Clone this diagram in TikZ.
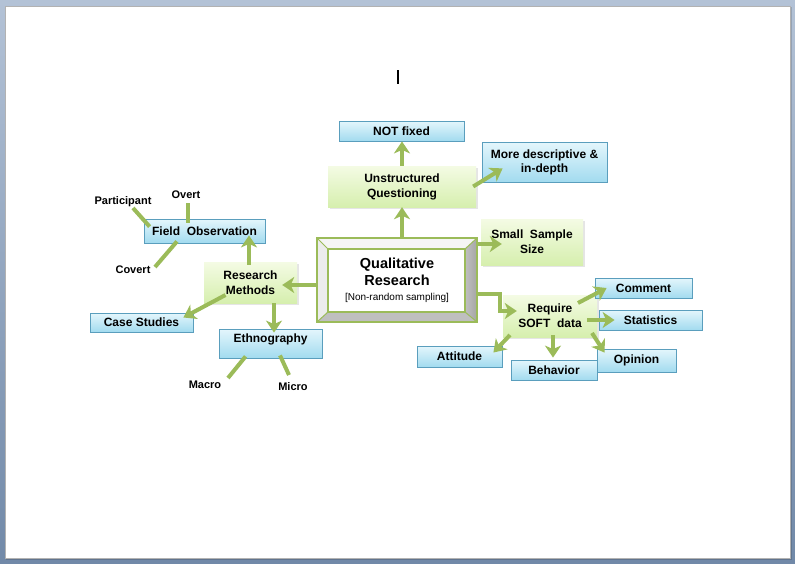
\documentclass[tikz,border=0pt]{standalone}
\usepackage{fontspec}
\setmainfont{Liberation Sans}
\usetikzlibrary{arrows.meta,shadows,calc}
\definecolor{gline}{HTML}{9BBB59}
\definecolor{bborder}{HTML}{5A9EBD}
\definecolor{btop}{HTML}{E4F6FC}
\definecolor{bbot}{HTML}{A2DBEF}
\definecolor{gtop}{HTML}{F4FBE4}
\definecolor{gbot}{HTML}{D6EFAE}
\definecolor{frametop}{HTML}{B3C2D6}
\definecolor{framebot}{HTML}{7189A8}
\tikzset{
  bluebox/.style={rectangle, draw=bborder, line width=0.8pt, top color=btop, bottom color=bbot,
    font=\fontsize{12}{14}\selectfont\bfseries, align=center, inner sep=0pt,
    drop shadow={opacity=0.25, shadow xshift=1.2pt, shadow yshift=-1.2pt}},
  greenbox/.style={rectangle, top color=gtop, bottom color=gbot,
    font=\fontsize{12}{15}\selectfont\bfseries, align=center, inner sep=0pt,
    drop shadow={opacity=0.2, shadow xshift=1.5pt, shadow yshift=-1.5pt}},
  plainlabel/.style={font=\fontsize{11}{13}\selectfont\bfseries, inner sep=0pt},
  arr/.style={draw=gline, line width=4pt, -{Stealth[length=12pt,width=16pt,inset=3.5pt]}},
  tieline/.style={draw=gline, line width=4pt},
}
\begin{document}
\begin{tikzpicture}[x=1pt,y=-1pt]
\useasboundingbox (0,0) rectangle (795,563);
% window frame
\shade[top color=frametop, bottom color=framebot] (0,0) rectangle (795,563);
\fill[black, opacity=0.15] (6,7) rectangle (792,560);
\fill[white] (5,6) rectangle (790,558);
\draw[gray!60, line width=0.5pt] (5,6) rectangle (790,558);
% cursor
\draw[black, line width=1.6pt] (398,70) -- (398,84);

% boxes
\node[bluebox, minimum width=125pt, minimum height=20pt] (notfixed) at (401.5,131) {NOT fixed};
\node[bluebox, minimum width=125pt, minimum height=40pt] (moredesc) at (544.5,162) {More descriptive \&\\in-depth};
\node[greenbox, minimum width=148pt, minimum height=41pt] (unstr) at (402,186.5) {Unstructured\\Questioning};
\node[greenbox, minimum width=102pt, minimum height=46pt] (small) at (532,242) {Small\ \ Sample\\Size};
\node[greenbox, minimum width=94pt, minimum height=42pt] (require) at (550,316) {Require\\SOFT\ \ data};
\node[bluebox, minimum width=97pt, minimum height=20pt] (comment) at (643.5,288) {Comment};
\node[bluebox, minimum width=103pt, minimum height=20pt] (stats) at (650.5,320) {Statistics};
\node[bluebox, minimum width=79pt, minimum height=23pt] (opinion) at (636.5,360.5) {Opinion};
\node[bluebox, minimum width=86pt, minimum height=20pt] (behavior) at (554,370) {Behavior};
\node[bluebox, minimum width=85pt, minimum height=21pt] (attitude) at (459.5,356.5) {Attitude};
\node[greenbox, minimum width=93pt, minimum height=41pt] (rm) at (250.5,282.5) {Research\\Methods};
\node[bluebox, minimum width=121pt, minimum height=24pt] (fo) at (204.5,231) {Field\ \ Observation};
\node[bluebox, minimum width=103pt, minimum height=19pt] (cs) at (141.5,322.5) {Case Studies};
\node[bluebox, minimum width=103pt, minimum height=29pt] (eth) at (270.5,343.5) {};
\node[font=\fontsize{12}{14}\selectfont\bfseries, inner sep=0pt] (ethtext) at (270.5,339.5) {Ethnography};

% Qualitative research bevel frame
\fill[white] (317,238) rectangle (477,322);
\fill[gray!8] (317,238) -- (477,238) -- (465,249) -- (328,249) -- cycle;
\fill[gray!15] (317,238) -- (328,249) -- (328,312) -- (317,322) -- cycle;
\shade[left color=gray!50, right color=gray!70] (477,238) -- (477,322) -- (465,312) -- (465,249) -- cycle;
\fill[gray!50] (317,322) -- (477,322) -- (465,312) -- (328,312) -- cycle;
\draw[gline, line width=1.6pt] (317,238) rectangle (477,322);
\draw[gline, line width=1.2pt] (328,249) rectangle (465,312);
\draw[gline, line width=1pt] (317,238) -- (328,249) (477,238) -- (465,249) (317,322) -- (328,312) (477,322) -- (465,312);
\node[inner sep=0pt, minimum width=160pt, minimum height=84pt, align=center,
      font=\fontsize{14.5}{17}\selectfont\bfseries] (qual) at (397,280)
  {Qualitative\\Research\\[-2pt]{\fontsize{10}{12}\selectfont\mdseries [Non-random sampling]}};

% plain labels
\node[plainlabel] (participant) at (123,202) {Participant};
\node[plainlabel] (overt) at (186,195) {Overt};
\node[plainlabel] (covert) at (133,270) {Covert};
\node[plainlabel] (macro) at (205,385) {Macro};
\node[plainlabel] (micro) at (293,387) {Micro};

% connectors
\draw[arr] ($(qual.north)+(5,0)$) -- (unstr.south);
\draw[arr] (unstr.north) -- (unstr.north |- notfixed.south);
\draw[arr] ($(unstr.east)+(-3,0)$) -- ($(moredesc.south west)+(21,-14)$);
\draw[arr] ($(qual.east)+(0,-36)$) -- ($(small.west)+(21,2)$);
\draw[arr] ($(qual.east)+(0,14)$) -- ++(23,0) |- ($(require.west)+(14,-5)$);
\draw[arr] ($(require)+(28,-13)$) -- ($(comment.west)+(12,0)$);
\draw[arr] ($(require)+(37,4)$) -- ($(stats.west)+(16,0)$);
\draw[arr] ($(require)+(-40,19)$) -- ($(attitude.east)+(-9,-4)$);
\draw[arr] ($(require)+(3,19)$) -- ($(behavior.north)+(-1,-2)$);
\draw[arr] ($(require)+(42,17)$) -- ($(opinion.north west)+(8,4)$);
\draw[arr] ($(qual.west)+(1,5)$) -- ($(rm.east)+(-15,2.5)$);
\draw[arr] ($(rm.north)+(-1.5,3)$) -- ($(fo.south)+(44.5,-8)$);
\draw[arr] ($(rm)+(-25,12.5)$) -- ($(cs.east)+(-10,-5)$);
\draw[arr] ($(rm.south)+(23.5,0)$) -- ($(eth.north)+(3.5,4)$);

\draw[tieline] ($(participant)+(10,6)$) -- ($(fo.north west)+(6,8)$);
\draw[tieline] ($(overt)+(2,8)$) -- ($(fo.north)+(-16.5,4)$);
\draw[tieline] ($(covert)+(22,-3)$) -- ($(fo.south)+(-27.5,-2)$);
\draw[tieline] ($(macro)+(23,-7)$) -- ($(eth.south west)+(27,-2)$);
\draw[tieline] ($(micro)+(-4,-12)$) -- ($(eth.south)+(9.5,-3)$);
\end{tikzpicture}
\end{document}
